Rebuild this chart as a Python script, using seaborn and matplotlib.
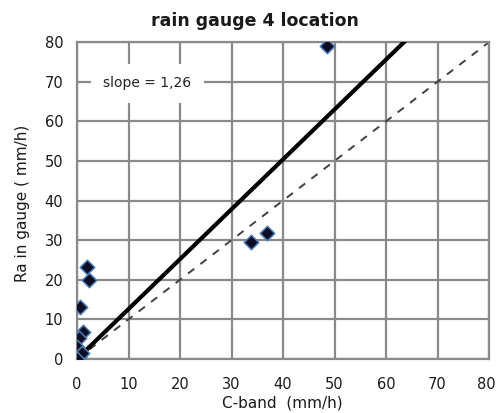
import numpy as np
import pandas as pd
import matplotlib
matplotlib.use("Agg")
import matplotlib.pyplot as plt
import matplotlib.transforms as mtransforms
import seaborn as sns

# data
cband = [48.5, 2.0, 2.3, 0.6, 1.2, 0.4, 0.0, 0.6, 0.3, 1.0, 0.0, 33.7, 36.8]
gauge = [79.0, 23.3, 19.8, 13.0, 6.9, 5.2, 3.0, 1.0, 0.5, 1.5, 0.0, 29.6, 31.7]
slope = 1.26
ticks = [0, 10, 20, 30, 40, 50, 60, 70, 80]
title = "rain gauge 4 location"
xlabel = "C-band  (mm/h)"
ylabel = "Ra in gauge ( mm/h)"
slope_label = "slope = 1,26"

sns.set_theme(style="white")
plt.rcParams['font.family'] = ['DejaVu Sans']

df = pd.DataFrame({"cband": cband, "gauge": gauge})

fig = plt.figure(figsize=(4.97, 4.13), dpi=100)
ax = fig.add_axes([0.155, 0.131, 0.829, 0.767])

grid_c = "#8a8a8a"
for t in ticks:
    ax.axvline(t, color=grid_c, lw=1.6, zorder=0)
    ax.axhline(t, color=grid_c, lw=1.6, zorder=0)

line_x = np.array([0, 80])
ax.plot(line_x, line_x, ls=(0, (4, 4)), color="#404040", lw=1.4, zorder=2)
ax.plot(line_x, slope * line_x, color="black", lw=3, zorder=3)

sns.scatterplot(data=df, x="cband", y="gauge", ax=ax, marker="D", s=55,
                color="#0d0d26", edgecolor="#4f7fb8", linewidth=1.1, zorder=4)

ax.text(13.6, 69.6, slope_label, ha="center", va="center", fontsize=10,
        color="#222222",
        bbox=dict(facecolor="white", edgecolor="none", boxstyle="square,pad=0.9"),
        zorder=5)

ax.set_xlim(0, 80)
ax.set_ylim(0, 80)
ax.set_xticks(ticks)
ax.set_yticks(ticks)
ax.tick_params(axis="both", direction="out", length=5, width=1.6, color=grid_c,
               labelsize=10.5, labelcolor="#1a1a1a")
ax.tick_params(axis="y", pad=5)
ax.tick_params(axis="x", pad=8)
for s in ax.spines.values():
    s.set_color(grid_c)
    s.set_linewidth(1.6)

# keep the last x tick label inside the figure
last = ax.get_xticklabels()[-1]
last.set_transform(last.get_transform() +
                   mtransforms.ScaledTranslation(-3 / 100, 0, fig.dpi_scale_trans))

fig.text(0.513, 0.949, title, ha="center", va="center", fontsize=12.5,
         fontweight="bold", color="#1a1a1a")
ax.set_xlabel(xlabel, fontsize=11, color="#1a1a1a")
ax.set_ylabel(ylabel, fontsize=11, color="#1a1a1a")
ax.xaxis.set_label_coords(0.498, -0.139)
ax.yaxis.set_label_coords(-0.133, 0.49)
ax.xaxis.label.set_va("center")
ax.yaxis.label.set_va("center")

fig.savefig("out.png", dpi=100)
